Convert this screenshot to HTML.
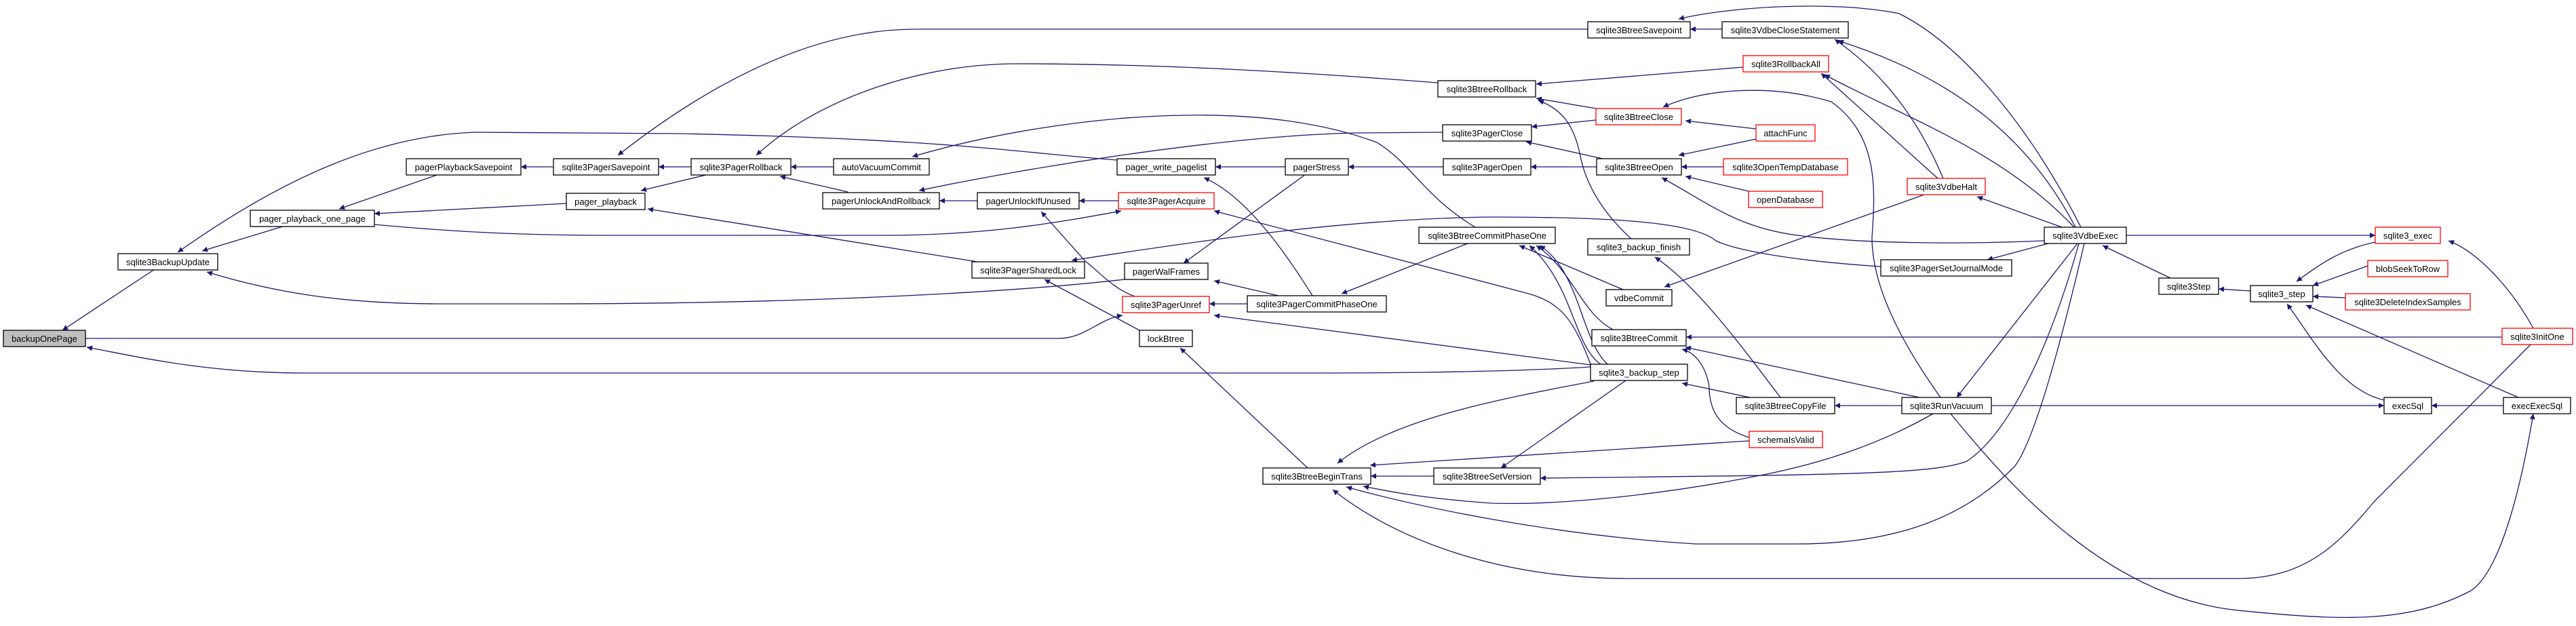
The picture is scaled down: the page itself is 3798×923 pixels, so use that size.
<!DOCTYPE html>
<html><head><meta charset="utf-8">
<style>
html,body{margin:0;padding:0;background:#fff;}
svg{display:block;}
text{font-family:"Liberation Sans",Helvetica,Arial,sans-serif;font-size:13px;fill:#000;}
</style></head>
<body>
<svg width="3798" height="923" viewBox="0 0 3798 923" xmlns="http://www.w3.org/2000/svg">
<defs>
<marker id="a" viewBox="0 0 10 10" refX="10" refY="5" markerWidth="11" markerHeight="8" markerUnits="userSpaceOnUse" orient="auto">
<path d="M0,0 L10,5 L0,10 z" fill="#191970"/>
</marker>
</defs>
<g fill="none" stroke="#191970" stroke-width="1.3" marker-end="url(#a)">
<path d="M228,397 L92,487"/>
<path d="M126,499 L1560,499 C1600,499 1620,470 1655,465"/>
<path d="M2345,541 C2200,550 2000,550 1900,550 L450,550 C300,550 200,525 128,512"/>
<path d="M420,333 L298,370"/>
<path d="M1647,236 C1500,225 1400,205 1000,197 L700,195 C560,200 420,260 262,372"/>
<path d="M1658,412 C1500,430 1200,448 800,448 L650,448 C500,448 400,430 305,401"/>
<path d="M552,331 C650,340 750,347 900,347 L1300,347 C1450,347 1550,330 1653,311"/>
<path d="M1441,386 L955,308"/>
<path d="M2341,43 L1350,43 C1200,43 1050,120 911,229"/>
<path d="M2120,122 C1900,105 1700,94 1500,94 C1350,94 1200,150 1115,229"/>
<path d="M816,246 L768,246"/>
<path d="M1019,246 L971,246"/>
<path d="M1229,246 L1166,246"/>
<path d="M1250,283 L1150,260"/>
<path d="M1045,257 L945,281"/>
<path d="M647,257 L500,308"/>
<path d="M835,300 L552,315"/>
<path d="M2175,335 C2100,290 2080,240 2030,210 C1950,180 1850,168 1746,170 C1600,172 1450,200 1345,231"/>
<path d="M2127,195 L2000,196 C1800,200 1500,250 1355,281"/>
<path d="M1441,296 L1385,296"/>
<path d="M1649,296 L1591,296"/>
<path d="M1673,437 C1640,425 1620,400 1600,385 L1535,312"/>
<path d="M1895,246 L1792,246"/>
<path d="M2128,246 L1988,246"/>
<path d="M1935,436 C1900,380 1840,290 1775,262"/>
<path d="M1925,257 L1745,388"/>
<path d="M2345,537 C2320,470 2300,445 2250,432 L1790,311"/>
<path d="M2773,393 C2650,385 2560,370 2530,355 C2500,330 2400,320 2200,320 C2000,322 1800,350 1580,384"/>
<path d="M1680,487 L1540,412"/>
<path d="M1928,690 L1740,513"/>
<path d="M1885,436 L1790,414"/>
<path d="M1839,448 L1783,448"/>
<path d="M2345,538 L1790,465"/>
<path d="M2164,359 L1978,433"/>
<path d="M2350,562 C2200,590 2050,620 1972,683"/>
<path d="M2579,650 L2020,686"/>
<path d="M2114,702 L2021,702"/>
<path d="M2397,561 L2213,690"/>
<path d="M3065,359 C3020,520 2960,640 2900,680 C2850,700 2700,700 2271,705"/>
<path d="M2850,610 C2780,650 2700,680 2600,700 C2450,730 2300,745 2200,742 C2100,735 2050,725 2010,717"/>
<path d="M3073,359 C3040,500 3000,650 2970,688 C2900,760 2800,802 2650,802 L2500,802 C2300,790 2100,750 1985,718"/>
<path d="M3731,508 C3650,590 3550,690 3500,740 C3450,800 3400,853 3300,853 L2400,853 C2200,853 2050,790 1965,722"/>
<path d="M2539,43 L2492,43"/>
<path d="M3068,335 C3000,200 2900,70 2800,20 C2700,0 2550,10 2475,28"/>
<path d="M2570,99 L2265,124"/>
<path d="M2353,160 L2265,145"/>
<path d="M2405,352 C2370,320 2340,280 2330,230 C2320,180 2300,160 2268,148"/>
<path d="M2353,177 L2258,187"/>
<path d="M2363,234 L2250,209"/>
<path d="M2589,190 L2485,178"/>
<path d="M2861,586 C2800,500 2760,420 2760,350 C2765,280 2770,200 2700,150 C2600,120 2500,135 2452,158"/>
<path d="M2354,246 L2257,246"/>
<path d="M2589,205 L2475,229"/>
<path d="M2541,246 L2479,246"/>
<path d="M2578,282 L2485,260"/>
<path d="M3014,355 C2900,360 2750,360 2650,347 C2560,335 2520,300 2450,262"/>
<path d="M2393,427 L2240,362"/>
<path d="M2378,486 C2330,460 2320,400 2265,362"/>
<path d="M2370,537 C2330,500 2330,400 2270,362"/>
<path d="M2360,537 C2320,510 2320,420 2255,362"/>
<path d="M2837,287 L2454,423"/>
<path d="M2625,586 C2560,500 2500,420 2440,379"/>
<path d="M3689,497 L2486,497"/>
<path d="M2830,586 L2485,512"/>
<path d="M2579,645 C2530,630 2520,600 2520,570 C2515,540 2500,520 2480,515"/>
<path d="M2580,586 L2480,565"/>
<path d="M2865,263 C2830,180 2780,110 2705,58"/>
<path d="M3060,335 C3000,220 2900,120 2710,60"/>
<path d="M2857,263 L2685,108"/>
<path d="M3058,335 C2950,220 2800,170 2690,110"/>
<path d="M3040,335 L2915,290"/>
<path d="M3020,359 L2930,383"/>
<path d="M3200,410 L3100,362"/>
<path d="M3063,359 L2885,586"/>
<path d="M3135,347 L3502,347"/>
<path d="M2804,598 L2705,598"/>
<path d="M2936,598 L3515,598"/>
<path d="M2876,610 C2950,700 3100,880 3300,900 C3450,915 3550,920 3643,871 C3690,840 3720,700 3735,610"/>
<path d="M3502,357 C3450,368 3420,390 3386,415"/>
<path d="M3735,484 C3700,420 3650,370 3610,355"/>
<path d="M3318,429 L3271,426"/>
<path d="M3491,392 L3410,421"/>
<path d="M3458,439 L3410,437"/>
<path d="M3713,586 L3400,450"/>
<path d="M3515,590 C3450,575 3410,500 3372,448"/>
<path d="M3691,598 L3585,598"/>
</g>
<g stroke-width="1.3">
<!-- nodes -->
<rect x="5" y="487" width="121" height="24" fill="#bfbfbf" stroke="#000"/><text x="65.5" y="504" text-anchor="middle">backupOnePage</text>
<rect x="174" y="374" width="147" height="24" fill="#fff" stroke="#000"/><text x="247.5" y="391" text-anchor="middle">sqlite3BackupUpdate</text>
<rect x="369" y="310" width="183" height="24" fill="#fff" stroke="#000"/><text x="460.5" y="327" text-anchor="middle">pager_playback_one_page</text>
<rect x="599" y="234" width="169" height="24" fill="#fff" stroke="#000"/><text x="683.5" y="251" text-anchor="middle">pagerPlaybackSavepoint</text>
<rect x="816" y="234" width="155" height="24" fill="#fff" stroke="#000"/><text x="893.5" y="251" text-anchor="middle">sqlite3PagerSavepoint</text>
<rect x="1019" y="234" width="147" height="24" fill="#fff" stroke="#000"/><text x="1092.5" y="251" text-anchor="middle">sqlite3PagerRollback</text>
<rect x="835" y="285" width="116" height="24" fill="#fff" stroke="#000"/><text x="893" y="302" text-anchor="middle">pager_playback</text>
<rect x="1229" y="234" width="141" height="24" fill="#fff" stroke="#000"/><text x="1299.5" y="251" text-anchor="middle">autoVacuumCommit</text>
<rect x="1213" y="284" width="172" height="24" fill="#fff" stroke="#000"/><text x="1299" y="301" text-anchor="middle">pagerUnlockAndRollback</text>
<rect x="1441" y="284" width="150" height="24" fill="#fff" stroke="#000"/><text x="1516" y="301" text-anchor="middle">pagerUnlockIfUnused</text>
<rect x="1649" y="284" width="141" height="24" fill="#fff" stroke="#ff0000"/><text x="1719.5" y="301" text-anchor="middle">sqlite3PagerAcquire</text>
<rect x="1647" y="234" width="145" height="24" fill="#fff" stroke="#000"/><text x="1719.5" y="251" text-anchor="middle">pager_write_pagelist</text>
<rect x="1895" y="234" width="93" height="24" fill="#fff" stroke="#000"/><text x="1941.5" y="251" text-anchor="middle">pagerStress</text>
<rect x="1433" y="386" width="166" height="24" fill="#fff" stroke="#000"/><text x="1516" y="403" text-anchor="middle">sqlite3PagerSharedLock</text>
<rect x="1658" y="388" width="123" height="24" fill="#fff" stroke="#000"/><text x="1719.5" y="405" text-anchor="middle">pagerWalFrames</text>
<rect x="1655" y="437" width="128" height="24" fill="#fff" stroke="#ff0000"/><text x="1719" y="454" text-anchor="middle">sqlite3PagerUnref</text>
<rect x="1839" y="436" width="205" height="24" fill="#fff" stroke="#000"/><text x="1941.5" y="453" text-anchor="middle">sqlite3PagerCommitPhaseOne</text>
<rect x="1680" y="487" width="78" height="24" fill="#fff" stroke="#000"/><text x="1719" y="504" text-anchor="middle">lockBtree</text>
<rect x="1862" y="690" width="159" height="24" fill="#fff" stroke="#000"/><text x="1941.5" y="707" text-anchor="middle">sqlite3BtreeBeginTrans</text>
<rect x="2341" y="32" width="151" height="24" fill="#fff" stroke="#000"/><text x="2416.5" y="49" text-anchor="middle">sqlite3BtreeSavepoint</text>
<rect x="2539" y="32" width="186" height="24" fill="#fff" stroke="#000"/><text x="2632" y="49" text-anchor="middle">sqlite3VdbeCloseStatement</text>
<rect x="2570" y="82" width="126" height="24" fill="#fff" stroke="#ff0000"/><text x="2633" y="99" text-anchor="middle">sqlite3RollbackAll</text>
<rect x="2120" y="119" width="144" height="24" fill="#fff" stroke="#000"/><text x="2192" y="136" text-anchor="middle">sqlite3BtreeRollback</text>
<rect x="2353" y="160" width="126" height="24" fill="#fff" stroke="#ff0000"/><text x="2416" y="177" text-anchor="middle">sqlite3BtreeClose</text>
<rect x="2127" y="184" width="131" height="24" fill="#fff" stroke="#000"/><text x="2192.5" y="201" text-anchor="middle">sqlite3PagerClose</text>
<rect x="2589" y="184" width="87" height="24" fill="#fff" stroke="#ff0000"/><text x="2632.5" y="201" text-anchor="middle">attachFunc</text>
<rect x="2128" y="234" width="129" height="24" fill="#fff" stroke="#000"/><text x="2192.5" y="251" text-anchor="middle">sqlite3PagerOpen</text>
<rect x="2354" y="234" width="125" height="24" fill="#fff" stroke="#000"/><text x="2416.5" y="251" text-anchor="middle">sqlite3BtreeOpen</text>
<rect x="2541" y="234" width="183" height="24" fill="#fff" stroke="#ff0000"/><text x="2632.5" y="251" text-anchor="middle">sqlite3OpenTempDatabase</text>
<rect x="2578" y="282" width="109" height="24" fill="#fff" stroke="#ff0000"/><text x="2632.5" y="299" text-anchor="middle">openDatabase</text>
<rect x="2092" y="335" width="201" height="24" fill="#fff" stroke="#000"/><text x="2192.5" y="352" text-anchor="middle">sqlite3BtreeCommitPhaseOne</text>
<rect x="2341" y="352" width="150" height="24" fill="#fff" stroke="#000"/><text x="2416" y="369" text-anchor="middle">sqlite3_backup_finish</text>
<rect x="2368" y="427" width="97" height="24" fill="#fff" stroke="#000"/><text x="2416.5" y="444" text-anchor="middle">vdbeCommit</text>
<rect x="2347" y="486" width="139" height="24" fill="#fff" stroke="#000"/><text x="2416.5" y="503" text-anchor="middle">sqlite3BtreeCommit</text>
<rect x="2345" y="537" width="143" height="24" fill="#fff" stroke="#000"/><text x="2416.5" y="554" text-anchor="middle">sqlite3_backup_step</text>
<rect x="2560" y="586" width="145" height="24" fill="#fff" stroke="#000"/><text x="2632.5" y="603" text-anchor="middle">sqlite3BtreeCopyFile</text>
<rect x="2579" y="636" width="108" height="24" fill="#fff" stroke="#ff0000"/><text x="2633" y="653" text-anchor="middle">schemaIsValid</text>
<rect x="2114" y="690" width="157" height="24" fill="#fff" stroke="#000"/><text x="2192.5" y="707" text-anchor="middle">sqlite3BtreeSetVersion</text>
<rect x="2812" y="263" width="115" height="24" fill="#fff" stroke="#ff0000"/><text x="2869.5" y="280" text-anchor="middle">sqlite3VdbeHalt</text>
<rect x="3014" y="335" width="121" height="24" fill="#fff" stroke="#000"/><text x="3074.5" y="352" text-anchor="middle">sqlite3VdbeExec</text>
<rect x="2773" y="383" width="193" height="24" fill="#fff" stroke="#000"/><text x="2869.5" y="400" text-anchor="middle">sqlite3PagerSetJournalMode</text>
<rect x="3183" y="410" width="88" height="24" fill="#fff" stroke="#000"/><text x="3227" y="427" text-anchor="middle">sqlite3Step</text>
<rect x="2804" y="586" width="132" height="24" fill="#fff" stroke="#000"/><text x="2870" y="603" text-anchor="middle">sqlite3RunVacuum</text>
<rect x="3502" y="335" width="96" height="24" fill="#fff" stroke="#ff0000"/><text x="3550" y="352" text-anchor="middle">sqlite3_exec</text>
<rect x="3491" y="384" width="118" height="24" fill="#fff" stroke="#ff0000"/><text x="3550" y="401" text-anchor="middle">blobSeekToRow</text>
<rect x="3318" y="421" width="92" height="24" fill="#fff" stroke="#000"/><text x="3364" y="438" text-anchor="middle">sqlite3_step</text>
<rect x="3458" y="433" width="184" height="24" fill="#fff" stroke="#ff0000"/><text x="3550" y="450" text-anchor="middle">sqlite3DeleteIndexSamples</text>
<rect x="3689" y="484" width="104" height="24" fill="#fff" stroke="#ff0000"/><text x="3741" y="501" text-anchor="middle">sqlite3InitOne</text>
<rect x="3515" y="586" width="70" height="24" fill="#fff" stroke="#000"/><text x="3550" y="603" text-anchor="middle">execSql</text>
<rect x="3691" y="586" width="99" height="24" fill="#fff" stroke="#000"/><text x="3740.5" y="603" text-anchor="middle">execExecSql</text>
</g>
</svg>
</body></html>
